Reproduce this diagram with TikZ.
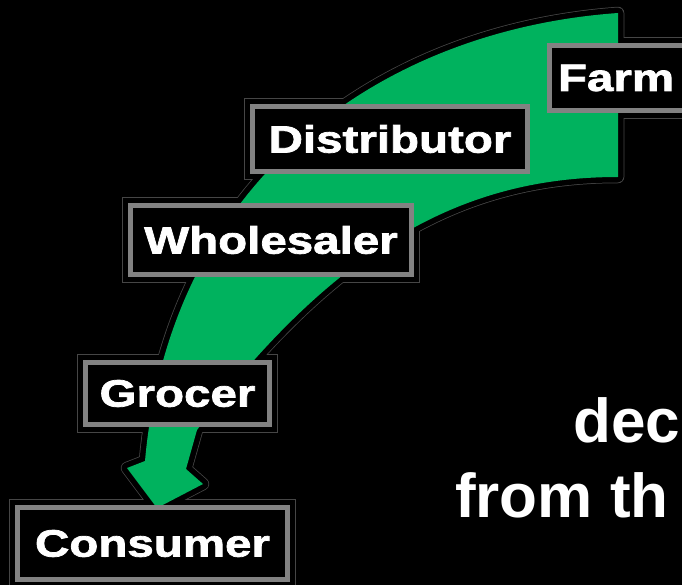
\documentclass[tikz,border=0pt]{standalone}
\usepackage{fontspec}
\setmainfont{Liberation Sans}
\newfontfamily\boxfont[FakeStretch=1.25,FakeBold=2]{Liberation Sans}
\usetikzlibrary{backgrounds}

\definecolor{flowgreen}{RGB}{0,178,94}
\definecolor{boxgray}{RGB}{130,130,130}
\definecolor{halogray}{RGB}{70,70,70}

\tikzset{
  box/.style={draw=boxgray, line width=5pt, fill=black, text=white,
    font=\boxfont\bfseries\fontsize{38}{42}\selectfont, inner sep=0pt},
  bigtext/.style={text=white, font=\bfseries\fontsize{62}{70}\selectfont,
    anchor=base west, inner sep=0pt}
}

% outline of the green arrow
\newcommand\flowarrow{(157,508) -- (127,468) -- (145,461)
  .. controls (170,180) and (380,30) .. (618,13) -- (618,177)
  .. controls (470,177) and (340,240) .. (197,430)
  -- (186,469) -- (203,484) -- cycle}

\begin{document}
\begin{tikzpicture}[x=1pt,y=-1pt]
\useasboundingbox (0,0) rectangle (682,585);

\node[box, anchor=west, minimum height=65pt, text width=150pt, align=left, inner xsep=8.5pt] (farm) at (547,78) {Farm};
\node[box, minimum width=275pt, minimum height=65pt] (dist) at (390,139) {Distributor};
\node[box, minimum width=281pt, minimum height=69pt] (whole) at (271,240) {Wholesaler};
\node[box, minimum width=184pt, minimum height=62pt] (grocer) at (177.5,393.5) {Grocer};
\node[box, minimum width=270pt, minimum height=72pt] (cons) at (152.5,543.5) {Consumer};

\node[bigtext] (dec) at (573,442) {dec};
\node[bigtext] (from) at (455,517) {from th};

\begin{scope}[on background layer]
\fill[black] (0,0) rectangle (682,585);
% thin outline round arrow and boxes
\draw[halogray, line width=12.5pt, line join=round] \flowarrow;
\foreach \n in {farm,dist,whole,grocer,cons}
  \fill[halogray] ([xshift=-6pt,yshift=6pt]\n.north west) rectangle ([xshift=6pt,yshift=-6pt]\n.south east);
\draw[black, line width=11pt, line join=round] \flowarrow;
\foreach \n in {farm,dist,whole,grocer,cons}
  \fill[black] ([xshift=-5pt,yshift=5pt]\n.north west) rectangle ([xshift=5pt,yshift=-5pt]\n.south east);
\fill[flowgreen] \flowarrow;
\end{scope}
\end{tikzpicture}
\end{document}
